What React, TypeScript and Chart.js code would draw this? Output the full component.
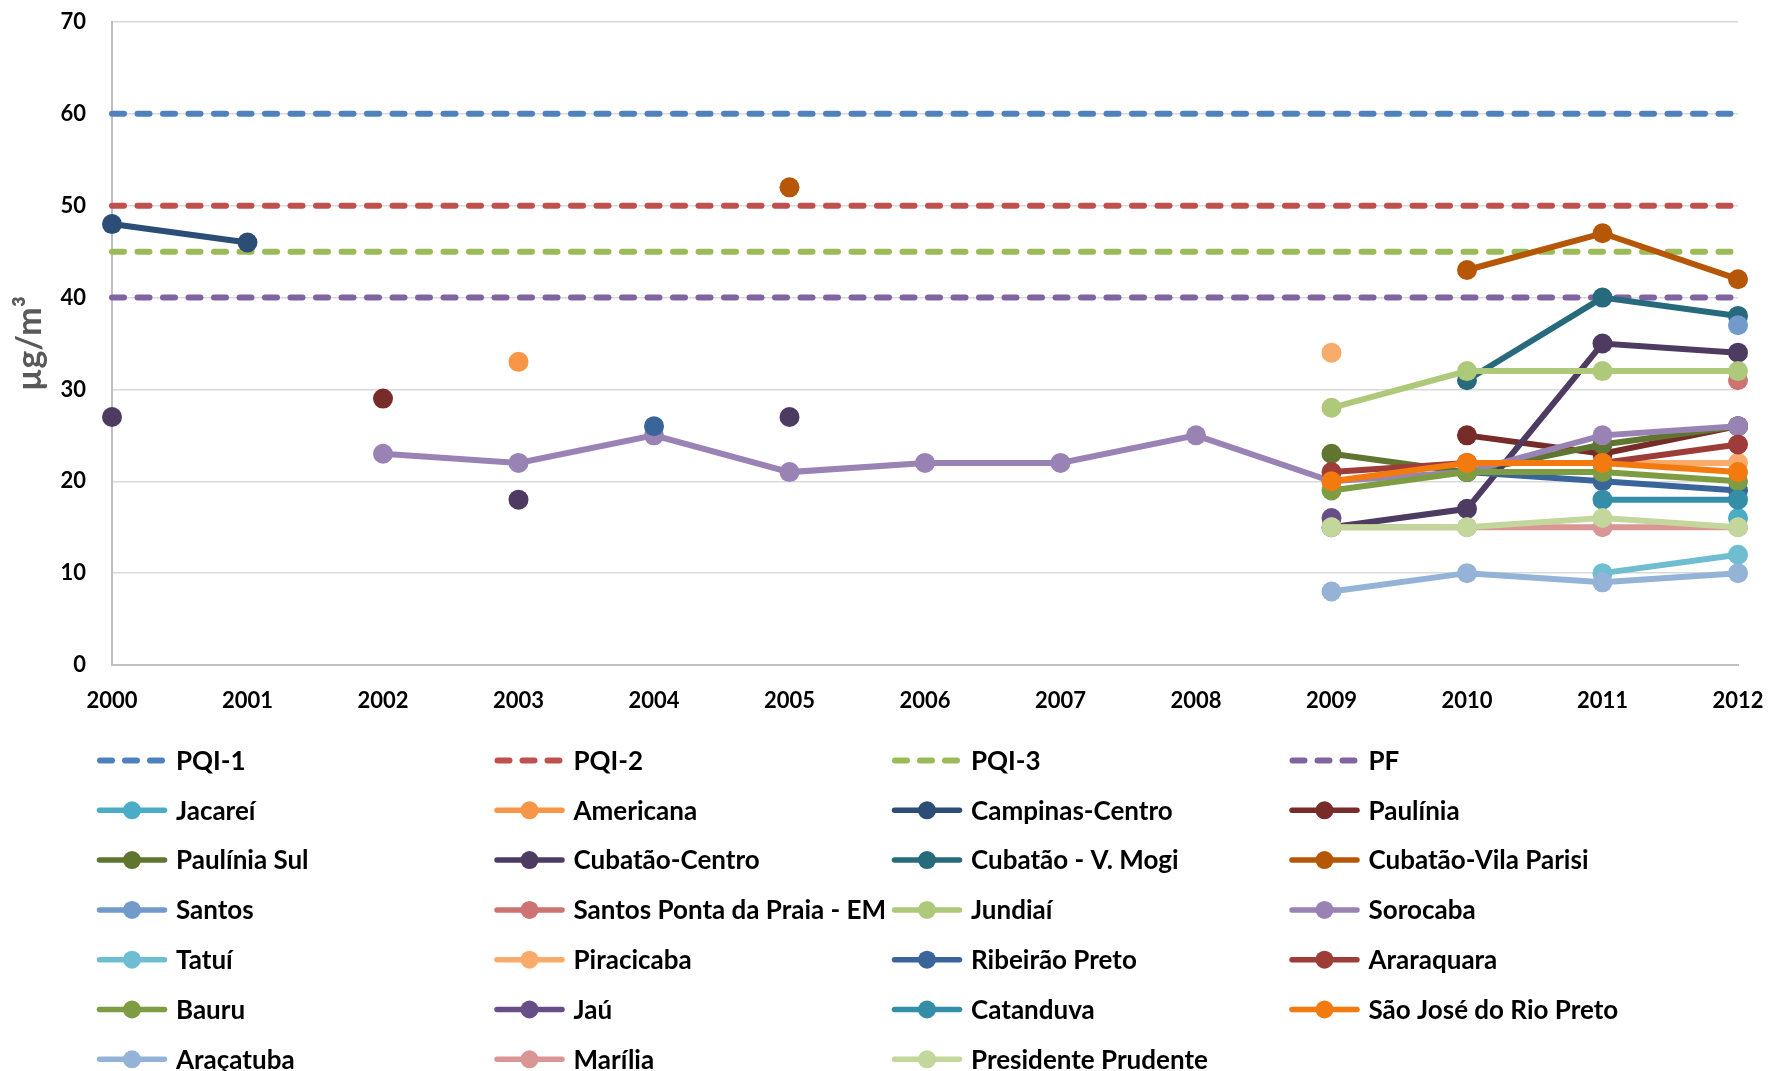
import React, { useEffect, useRef } from 'react';
import { Chart, registerables } from 'chart.js';

Chart.register(...registerables);

const N = null;

const years = ['2000', '2001', '2002', '2003', '2004', '2005', '2006', '2007', '2008', '2009', '2010', '2011', '2012'];

const yTicks = [0, 10, 20, 30, 40, 50, 60, 70];

// reference limits
const pqi1 = [60, 60, 60, 60, 60, 60, 60, 60, 60, 60, 60, 60, 60];
const pqi2 = [50, 50, 50, 50, 50, 50, 50, 50, 50, 50, 50, 50, 50];
const pqi3 = [45, 45, 45, 45, 45, 45, 45, 45, 45, 45, 45, 45, 45];
const pf = [40, 40, 40, 40, 40, 40, 40, 40, 40, 40, 40, 40, 40];

// stations
const jacarei = [N, N, N, N, N, N, N, N, N, N, N, N, 16];
const americana = [N, N, N, 33, N, N, N, N, N, N, N, N, N];
const campinasCentro = [48, 46, N, N, N, N, N, N, N, N, N, N, N];
const paulinia = [N, N, 29, N, N, N, N, N, N, N, 25, 23, 26];
const pauliniaSul = [N, N, N, N, N, N, N, N, N, 23, 21, 24, 26];
const cubataoCentro = [27, N, N, 18, N, 27, N, N, N, 15, 17, 35, 34];
const cubataoVMogi = [N, N, N, N, N, N, N, N, N, N, 31, 40, 38];
const cubataoVilaParisi = [N, N, N, N, N, 52, N, N, N, N, 43, 47, 42];
const santos = [N, N, N, N, N, N, N, N, N, N, N, N, 37];
const santosPontaPraia = [N, N, N, N, N, N, N, N, N, N, N, N, 31];
const jundiai = [N, N, N, N, N, N, N, N, N, 28, 32, 32, 32];
const sorocaba = [N, N, 23, 22, 25, 21, 22, 22, 25, 20, 21, 25, 26];
const tatui = [N, N, N, N, N, N, N, N, N, N, N, 10, 12];
const piracicaba = [N, N, N, N, N, N, N, N, N, 34, N, 22, 22];
const ribeiraoPreto = [N, N, N, N, 26, N, N, N, N, N, 21, 20, 19];
const araraquara = [N, N, N, N, N, N, N, N, N, 21, 22, 22, 24];
const bauru = [N, N, N, N, N, N, N, N, N, 19, 21, 21, 20];
const jau = [N, N, N, N, N, N, N, N, N, 16, N, N, N];
const catanduva = [N, N, N, N, N, N, N, N, N, N, N, 18, 18];
const saoJoseRioPreto = [N, N, N, N, N, N, N, N, N, 20, 22, 22, 21];
const aracatuba = [N, N, N, N, N, N, N, N, N, 8, 10, 9, 10];
const marilia = [N, N, N, N, N, N, N, N, N, 15, 15, 15, 15];
const presidentePrudente = [N, N, N, N, N, N, N, N, N, 15, 15, 16, 15];

const limitNames = ['PQI-1', 'PQI-2', 'PQI-3', 'PF'];
const limitValues = [pqi1, pqi2, pqi3, pf];
const limitColors = ['#4F81BD', '#C0504D', '#9BBB59', '#8064A2'];

const stationNames = [
  'Jacareí', 'Americana', 'Campinas-Centro', 'Paulínia',
  'Paulínia Sul', 'Cubatão-Centro', 'Cubatão - V. Mogi', 'Cubatão-Vila Parisi',
  'Santos', 'Santos Ponta da Praia - EM', 'Jundiaí', 'Sorocaba',
  'Tatuí', 'Piracicaba', 'Ribeirão Preto', 'Araraquara',
  'Bauru', 'Jaú', 'Catanduva', 'São José do Rio Preto',
  'Araçatuba', 'Marília', 'Presidente Prudente',
];
const stationValues = [
  jacarei, americana, campinasCentro, paulinia,
  pauliniaSul, cubataoCentro, cubataoVMogi, cubataoVilaParisi,
  santos, santosPontaPraia, jundiai, sorocaba,
  tatui, piracicaba, ribeiraoPreto, araraquara,
  bauru, jau, catanduva, saoJoseRioPreto,
  aracatuba, marilia, presidentePrudente,
];
const stationColors = [
  '#4BACC6', '#F79646', '#2C4D75', '#772C2A',
  '#5F7530', '#4D3B62', '#276A7C', '#B65708',
  '#729ACA', '#CD7371', '#AFC97A', '#9983B5',
  '#6FBDD1', '#F9AB6B', '#3A659B', '#9E3C39',
  '#7E9C42', '#664F86', '#358EA8', '#F27A0F',
  '#95B3D7', '#D99694', '#C3D69B',
];

const FONT = 'Lato, "Open Sans", "DejaVu Sans", sans-serif';

const gridLegend = {
  id: 'gridLegend',
  afterDraw(chart: any) {
    const ctx = chart.ctx as CanvasRenderingContext2D;
    const colX = [97, 494.5, 892, 1289.5];
    const row0 = 760.5;
    const rowStep = 49.8;
    const sample = 70;
    chart.data.datasets.forEach((ds: any, i: number) => {
      const col = i % 4;
      const row = Math.floor(i / 4);
      const x0 = colX[col];
      const y = row0 + row * rowStep;
      ctx.save();
      ctx.strokeStyle = ds.borderColor;
      ctx.fillStyle = ds.borderColor;
      ctx.lineCap = 'round';
      if (ds.isLimit) {
        ctx.lineWidth = 6;
        ctx.setLineDash([12, 13]);
        ctx.beginPath();
        ctx.moveTo(x0 + 3, y);
        ctx.lineTo(x0 + sample - 3, y);
        ctx.stroke();
      } else {
        ctx.lineWidth = 5.5;
        ctx.beginPath();
        ctx.moveTo(x0 + 2.5, y);
        ctx.lineTo(x0 + sample - 2.5, y);
        ctx.stroke();
        ctx.beginPath();
        ctx.arc(x0 + sample / 2, y, 9, 0, Math.PI * 2);
        ctx.fill();
      }
      ctx.setLineDash([]);
      ctx.fillStyle = '#000000';
      ctx.font = 'bold 26px ' + FONT;
      ctx.textBaseline = 'middle';
      ctx.textAlign = 'left';
      ctx.fillText(ds.label, x0 + 79, y + 1);
      ctx.restore();
    });
  },
};

const clearPadding = (scale: any) => {
  scale.paddingTop = 0;
  scale.paddingBottom = 0;
  scale.paddingLeft = 0;
  scale.paddingRight = 0;
};

export default function App() {
  const canvasRef = useRef<HTMLCanvasElement | null>(null);

  useEffect(() => {
    if (!canvasRef.current) return;
    const total = limitNames.length + stationNames.length;
    const datasets: any[] = [];
    limitNames.forEach((name, i) => {
      datasets.push({
        label: name,
        data: limitValues[i],
        borderColor: limitColors[i],
        backgroundColor: limitColors[i],
        borderWidth: 6,
        borderDash: [12, 13.5],
        borderCapStyle: 'round',
        pointRadius: 0,
        pointHoverRadius: 0,
        isLimit: true,
        order: total - i,
      });
    });
    stationNames.forEach((name, j) => {
      const i = j + limitNames.length;
      datasets.push({
        label: name,
        data: stationValues[j],
        borderColor: stationColors[j],
        backgroundColor: stationColors[j],
        pointBackgroundColor: stationColors[j],
        pointBorderWidth: 0,
        borderWidth: 6,
        pointRadius: 10,
        pointHoverRadius: 10,
        spanGaps: false,
        isLimit: false,
        order: total - i,
      });
    });

    const chart = new Chart(canvasRef.current, {
      type: 'line',
      data: { labels: years, datasets },
      options: {
        responsive: false,
        animation: false,
        devicePixelRatio: 1,
        layout: { padding: { left: 0, right: 33, top: 22, bottom: 346 } },
        plugins: { legend: { display: false }, tooltip: { enabled: false } },
        elements: { line: { tension: 0 } },
        scales: {
          x: {
            type: 'category',
            offset: false,
            grid: { display: false, drawTicks: false },
            border: { display: true, color: '#BFBFBF', width: 2 },
            ticks: {
              color: '#000000',
              font: { family: FONT, size: 22, weight: 'bold' },
              padding: 23,
              maxRotation: 0,
              autoSkip: false,
            },
            afterFit: (scale: any) => { scale.height = 60; clearPadding(scale); },
          },
          y: {
            min: 0,
            max: 70,
            afterBuildTicks: (scale: any) => { scale.ticks = yTicks.map((v) => ({ value: v })); },
            grid: { color: '#D9D9D9', lineWidth: 1.5, drawTicks: false },
            border: { display: true, color: '#BFBFBF', width: 2 },
            ticks: {
              color: '#000000',
              font: { family: FONT, size: 22, weight: 'bold' },
              padding: 26,
            },
            title: {
              display: true,
              text: 'µg/m³',
              color: '#595959',
              font: { family: FONT, size: 34, weight: 'bold' },
              padding: { top: 10, bottom: 0 },
            },
            afterFit: (scale: any) => { scale.width = 112; clearPadding(scale); },
          },
        },
      } as any,
      plugins: [gridLegend],
    });
    return () => chart.destroy();
  }, []);

  return (
    <div style={{ position: 'absolute', left: 0, top: 0, width: 1771, height: 1071, background: '#ffffff' }}>
      <canvas ref={canvasRef} width={1771} height={1071} style={{ width: 1771, height: 1071, display: 'block' }} />
    </div>
  );
}
